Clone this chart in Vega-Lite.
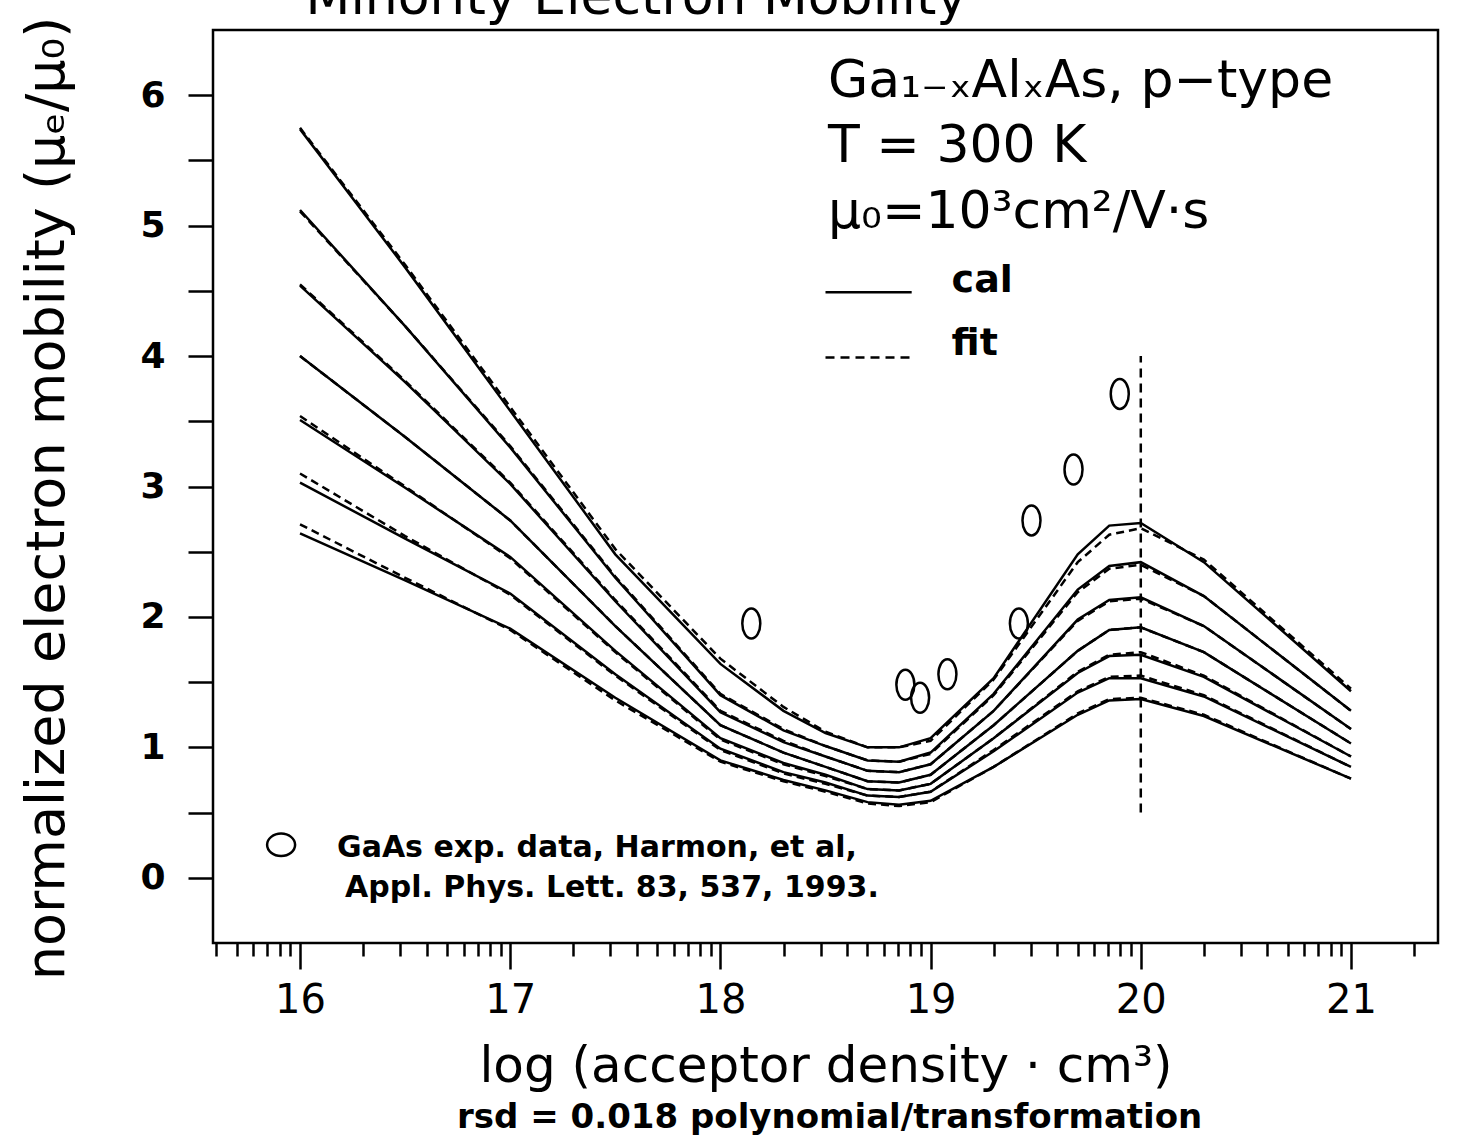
{
  "$schema": "https://vega.github.io/schema/vega-lite/v6.json",
  "autosize": "none",
  "width": 1225,
  "height": 913,
  "padding": {"left": 213, "top": 30, "right": 24, "bottom": 196},
  "background": "white",
  "config": {
    "view": {"stroke": "black", "strokeWidth": 2.5},
    "font": "DejaVu Sans",
    "axis": {"grid": false, "domain": false, "tickColor": "black", "tickWidth": 2.5, "labelColor": "black", "titleColor": "black", "labelFont": "DejaVu Sans", "titleFont": "DejaVu Sans", "titleFontWeight": "normal"},
    "text": {"color": "black", "font": "DejaVu Sans"}
  },
  "datasets": {
    "cal": [
      {"c":1,"x":16,"y":5.74},{"c":1,"x":16.5,"y":4.68},{"c":1,"x":17,"y":3.58},{"c":1,"x":17.5,"y":2.48},{"c":1,"x":18,"y":1.64},{"c":1,"x":18.3,"y":1.28},{"c":1,"x":18.5,"y":1.11},{"c":1,"x":18.7,"y":1.00},{"c":1,"x":18.85,"y":1.00},{"c":1,"x":19,"y":1.07},{"c":1,"x":19.3,"y":1.53},{"c":1,"x":19.7,"y":2.48},{"c":1,"x":19.85,"y":2.70},{"c":1,"x":20,"y":2.72},{"c":1,"x":20.3,"y":2.42},{"c":1,"x":21,"y":1.43},
      {"c":2,"x":16,"y":5.12},{"c":2,"x":16.5,"y":4.23},{"c":2,"x":17,"y":3.30},{"c":2,"x":17.5,"y":2.30},{"c":2,"x":18,"y":1.40},{"c":2,"x":18.3,"y":1.13},{"c":2,"x":18.5,"y":1.01},{"c":2,"x":18.7,"y":0.90},{"c":2,"x":18.85,"y":0.89},{"c":2,"x":19,"y":0.96},{"c":2,"x":19.3,"y":1.41},{"c":2,"x":19.7,"y":2.21},{"c":2,"x":19.85,"y":2.39},{"c":2,"x":20,"y":2.42},{"c":2,"x":20.3,"y":2.16},{"c":2,"x":21,"y":1.28},
      {"c":3,"x":16,"y":4.54},{"c":3,"x":16.5,"y":3.80},{"c":3,"x":17,"y":3.02},{"c":3,"x":17.5,"y":2.12},{"c":3,"x":18,"y":1.27},{"c":3,"x":18.3,"y":1.04},{"c":3,"x":18.5,"y":0.93},{"c":3,"x":18.7,"y":0.82},{"c":3,"x":18.85,"y":0.81},{"c":3,"x":19,"y":0.87},{"c":3,"x":19.3,"y":1.28},{"c":3,"x":19.7,"y":1.98},{"c":3,"x":19.85,"y":2.13},{"c":3,"x":20,"y":2.15},{"c":3,"x":20.3,"y":1.93},{"c":3,"x":21,"y":1.14},
      {"c":4,"x":16,"y":4.00},{"c":4,"x":16.5,"y":3.38},{"c":4,"x":17,"y":2.74},{"c":4,"x":17.5,"y":1.93},{"c":4,"x":18,"y":1.17},{"c":4,"x":18.3,"y":0.96},{"c":4,"x":18.5,"y":0.85},{"c":4,"x":18.7,"y":0.74},{"c":4,"x":18.85,"y":0.73},{"c":4,"x":19,"y":0.79},{"c":4,"x":19.3,"y":1.17},{"c":4,"x":19.7,"y":1.74},{"c":4,"x":19.85,"y":1.90},{"c":4,"x":20,"y":1.92},{"c":4,"x":20.3,"y":1.73},{"c":4,"x":21,"y":1.03},
      {"c":5,"x":16,"y":3.51},{"c":5,"x":16.5,"y":2.99},{"c":5,"x":17,"y":2.46},{"c":5,"x":17.5,"y":1.74},{"c":5,"x":18,"y":1.07},{"c":5,"x":18.3,"y":0.88},{"c":5,"x":18.5,"y":0.79},{"c":5,"x":18.7,"y":0.68},{"c":5,"x":18.85,"y":0.67},{"c":5,"x":19,"y":0.72},{"c":5,"x":19.3,"y":1.07},{"c":5,"x":19.7,"y":1.57},{"c":5,"x":19.85,"y":1.70},{"c":5,"x":20,"y":1.71},{"c":5,"x":20.3,"y":1.54},{"c":5,"x":21,"y":0.93},
      {"c":6,"x":16,"y":3.03},{"c":6,"x":16.5,"y":2.60},{"c":6,"x":17,"y":2.18},{"c":6,"x":17.5,"y":1.56},{"c":6,"x":18,"y":0.99},{"c":6,"x":18.3,"y":0.81},{"c":6,"x":18.5,"y":0.73},{"c":6,"x":18.7,"y":0.63},{"c":6,"x":18.85,"y":0.62},{"c":6,"x":19,"y":0.66},{"c":6,"x":19.3,"y":0.97},{"c":6,"x":19.7,"y":1.42},{"c":6,"x":19.85,"y":1.53},{"c":6,"x":20,"y":1.53},{"c":6,"x":20.3,"y":1.39},{"c":6,"x":21,"y":0.85},
      {"c":7,"x":16,"y":2.64},{"c":7,"x":16.5,"y":2.28},{"c":7,"x":17,"y":1.91},{"c":7,"x":17.5,"y":1.38},{"c":7,"x":18,"y":0.90},{"c":7,"x":18.3,"y":0.75},{"c":7,"x":18.5,"y":0.67},{"c":7,"x":18.7,"y":0.58},{"c":7,"x":18.85,"y":0.56},{"c":7,"x":19,"y":0.59},{"c":7,"x":19.3,"y":0.85},{"c":7,"x":19.7,"y":1.25},{"c":7,"x":19.85,"y":1.36},{"c":7,"x":20,"y":1.37},{"c":7,"x":20.3,"y":1.24},{"c":7,"x":21,"y":0.76}
    ],
    "fit": [
      {"c":1,"x":16,"y":5.75},{"c":1,"x":16.5,"y":4.70},{"c":1,"x":17,"y":3.61},{"c":1,"x":17.5,"y":2.52},{"c":1,"x":18,"y":1.68},{"c":1,"x":18.3,"y":1.31},{"c":1,"x":18.5,"y":1.12},{"c":1,"x":18.7,"y":1.00},{"c":1,"x":18.85,"y":1.00},{"c":1,"x":19,"y":1.05},{"c":1,"x":19.3,"y":1.52},{"c":1,"x":19.7,"y":2.42},{"c":1,"x":19.85,"y":2.63},{"c":1,"x":20,"y":2.68},{"c":1,"x":20.3,"y":2.44},{"c":1,"x":21,"y":1.45},
      {"c":2,"x":16,"y":5.11},{"c":2,"x":16.5,"y":4.23},{"c":2,"x":17,"y":3.31},{"c":2,"x":17.5,"y":2.31},{"c":2,"x":18,"y":1.41},{"c":2,"x":18.3,"y":1.14},{"c":2,"x":18.5,"y":1.01},{"c":2,"x":18.7,"y":0.90},{"c":2,"x":18.85,"y":0.89},{"c":2,"x":19,"y":0.95},{"c":2,"x":19.3,"y":1.40},{"c":2,"x":19.7,"y":2.19},{"c":2,"x":19.85,"y":2.37},{"c":2,"x":20,"y":2.40},{"c":2,"x":20.3,"y":2.16},{"c":2,"x":21,"y":1.28},
      {"c":3,"x":16,"y":4.55},{"c":3,"x":16.5,"y":3.81},{"c":3,"x":17,"y":3.03},{"c":3,"x":17.5,"y":2.13},{"c":3,"x":18,"y":1.28},{"c":3,"x":18.3,"y":1.05},{"c":3,"x":18.5,"y":0.93},{"c":3,"x":18.7,"y":0.82},{"c":3,"x":18.85,"y":0.81},{"c":3,"x":19,"y":0.87},{"c":3,"x":19.3,"y":1.28},{"c":3,"x":19.7,"y":1.97},{"c":3,"x":19.85,"y":2.12},{"c":3,"x":20,"y":2.14},{"c":3,"x":20.3,"y":1.93},{"c":3,"x":21,"y":1.14},
      {"c":4,"x":16,"y":4.00},{"c":4,"x":16.5,"y":3.38},{"c":4,"x":17,"y":2.74},{"c":4,"x":17.5,"y":1.93},{"c":4,"x":18,"y":1.17},{"c":4,"x":18.3,"y":0.96},{"c":4,"x":18.5,"y":0.85},{"c":4,"x":18.7,"y":0.74},{"c":4,"x":18.85,"y":0.73},{"c":4,"x":19,"y":0.79},{"c":4,"x":19.3,"y":1.17},{"c":4,"x":19.7,"y":1.74},{"c":4,"x":19.85,"y":1.90},{"c":4,"x":20,"y":1.92},{"c":4,"x":20.3,"y":1.73},{"c":4,"x":21,"y":1.03},
      {"c":5,"x":16,"y":3.54},{"c":5,"x":16.5,"y":3.00},{"c":5,"x":17,"y":2.45},{"c":5,"x":17.5,"y":1.73},{"c":5,"x":18,"y":1.06},{"c":5,"x":18.3,"y":0.87},{"c":5,"x":18.5,"y":0.78},{"c":5,"x":18.7,"y":0.68},{"c":5,"x":18.85,"y":0.67},{"c":5,"x":19,"y":0.72},{"c":5,"x":19.3,"y":1.07},{"c":5,"x":19.7,"y":1.58},{"c":5,"x":19.85,"y":1.71},{"c":5,"x":20,"y":1.73},{"c":5,"x":20.3,"y":1.55},{"c":5,"x":21,"y":0.93},
      {"c":6,"x":16,"y":3.10},{"c":6,"x":16.5,"y":2.62},{"c":6,"x":17,"y":2.17},{"c":6,"x":17.5,"y":1.55},{"c":6,"x":18,"y":0.98},{"c":6,"x":18.3,"y":0.80},{"c":6,"x":18.5,"y":0.72},{"c":6,"x":18.7,"y":0.63},{"c":6,"x":18.85,"y":0.62},{"c":6,"x":19,"y":0.66},{"c":6,"x":19.3,"y":0.98},{"c":6,"x":19.7,"y":1.43},{"c":6,"x":19.85,"y":1.54},{"c":6,"x":20,"y":1.55},{"c":6,"x":20.3,"y":1.40},{"c":6,"x":21,"y":0.85},
      {"c":7,"x":16,"y":2.71},{"c":7,"x":16.5,"y":2.30},{"c":7,"x":17,"y":1.90},{"c":7,"x":17.5,"y":1.36},{"c":7,"x":18,"y":0.89},{"c":7,"x":18.3,"y":0.74},{"c":7,"x":18.5,"y":0.66},{"c":7,"x":18.7,"y":0.57},{"c":7,"x":18.85,"y":0.55},{"c":7,"x":19,"y":0.58},{"c":7,"x":19.3,"y":0.85},{"c":7,"x":19.7,"y":1.26},{"c":7,"x":19.85,"y":1.37},{"c":7,"x":20,"y":1.38},{"c":7,"x":20.3,"y":1.25},{"c":7,"x":21,"y":0.76}
    ],
    "exp": [
      {"x":18.147,"y":1.95},{"x":18.88,"y":1.48},{"x":18.95,"y":1.38},{"x":19.08,"y":1.56},
      {"x":19.42,"y":1.95},{"x":19.48,"y":2.74},{"x":19.68,"y":3.13},{"x":19.90,"y":3.71}
    ],
    "vline": [{"x":20,"y":0.5,"y2":4.0}],
    "legSolid": [{"x":18.5,"x2":18.91,"y":4.49}],
    "legDash": [{"x":18.5,"x2":18.91,"y":3.99}],
    "legSym": [{"x":15.91,"y":0.253}],
    "annot": [
      {"x":18.512,"y":5.988,"t":"Ga₁₋ₓAlₓAs, p−type"},
      {"x":18.512,"y":5.49,"t":"T = 300 K"},
      {"x":18.512,"y":4.98,"t":"μ₀=10³cm²/V·s"}
    ],
    "legText": [
      {"x":19.10,"y":4.49,"t":"cal"},
      {"x":19.10,"y":4.01,"t":"fit"}
    ],
    "refText": [
      {"x":16.176,"y":0.161,"t":"GaAs exp. data, Harmon, et al,"},
      {"x":16.214,"y":-0.146,"t":"Appl. Phys. Lett. 83, 537, 1993."}
    ],
    "rsdText": [{"x":18.52,"y":-1.917,"t":"rsd = 0.018 polynomial/transformation"}],
    "titleText": [{"x":17.6,"y":6.624,"t":"Minority Electron Mobility"}]
  },
  "layer": [
    {
      "data": {"name": "cal"},
      "mark": {"type": "line", "color": "black", "strokeWidth": 2.5},
      "encoding": {
        "x": {"field": "x", "type": "quantitative",
          "scale": {"domain": [15.586, 21.414], "nice": false, "zero": false},
          "axis": {"orient": "bottom", "tickCount": 200,
            "values": [15.602,15.699,15.778,15.845,15.903,15.954,16,16.301,16.477,16.602,16.699,16.778,16.845,16.903,16.954,17,17.301,17.477,17.602,17.699,17.778,17.845,17.903,17.954,18,18.301,18.477,18.602,18.699,18.778,18.845,18.903,18.954,19,19.301,19.477,19.602,19.699,19.778,19.845,19.903,19.954,20,20.301,20.477,20.602,20.699,20.778,20.845,20.903,20.954,21,21.301],
            "labelExpr": "datum.value % 1 === 0 ? format(datum.value, 'd') : ''",
            "tickSize": {"condition": {"test": "datum.value % 1 === 0", "value": 26}, "value": 13},
            "labelPadding": 11, "labelFontSize": 40, "labelFlush": false, "labelOverlap": false,
            "title": "log (acceptor density · cm³)", "titleFontSize": 50, "titleY": 138, "titleBaseline": "alphabetic"}},
        "y": {"field": "y", "type": "quantitative",
          "scale": {"domain": [-0.5, 6.5], "nice": false, "zero": false},
          "axis": {"values": [0,0.5,1,1.5,2,2.5,3,3.5,4,4.5,5,5.5,6], "tickCount": 100, "labelExpr": "datum.value % 1 === 0 ? format(datum.value, 'd') : ''", "tickSize": 25, "labelPadding": 23, "labelFontSize": 36, "labelFontWeight": "bold", "labelOverlap": false,
            "title": "normalized electron mobility (μₑ/μ₀)", "titleFontSize": 54, "titleX": -150, "titleY": 468, "titleAngle": -90, "titleBaseline": "alphabetic", "titleAlign": "center"}},
        "detail": {"field": "c"}
      }
    },
    {
      "data": {"name": "fit"},
      "mark": {"type": "line", "color": "black", "strokeWidth": 2.5, "strokeDash": [8, 5]},
      "encoding": {
        "x": {"field": "x", "type": "quantitative", "scale": {"domain": [15.586, 21.414], "nice": false, "zero": false}},
        "y": {"field": "y", "type": "quantitative", "scale": {"domain": [-0.5, 6.5], "nice": false, "zero": false}},
        "detail": {"field": "c"}
      }
    },
    {
      "data": {"name": "vline"},
      "mark": {"type": "rule", "color": "black", "strokeWidth": 2.5, "strokeDash": [9, 6]},
      "encoding": {
        "x": {"field": "x", "type": "quantitative", "scale": {"domain": [15.586, 21.414], "nice": false, "zero": false}},
        "y": {"field": "y", "type": "quantitative", "scale": {"domain": [-0.5, 6.5], "nice": false, "zero": false}},
        "y2": {"field": "y2"}
      }
    },
    {
      "data": {"name": "exp"},
      "mark": {"type": "point", "shape": "M0,-1A0.6,1,0,1,1,0,1A0.6,1,0,1,1,0,-1Z", "filled": false, "stroke": "black", "strokeWidth": 2.5, "size": 900, "opacity": 1},
      "encoding": {
        "x": {"field": "x", "type": "quantitative", "scale": {"domain": [15.586, 21.414], "nice": false, "zero": false}},
        "y": {"field": "y", "type": "quantitative", "scale": {"domain": [-0.5, 6.5], "nice": false, "zero": false}}
      }
    },
    {
      "data": {"name": "legSym"},
      "mark": {"type": "point", "shape": "M-1,0A1,0.8,0,1,1,1,0A1,0.8,0,1,1,-1,0Z", "filled": false, "stroke": "black", "strokeWidth": 2.5, "size": 784, "opacity": 1},
      "encoding": {
        "x": {"field": "x", "type": "quantitative", "scale": {"domain": [15.586, 21.414], "nice": false, "zero": false}},
        "y": {"field": "y", "type": "quantitative", "scale": {"domain": [-0.5, 6.5], "nice": false, "zero": false}}
      }
    },
    {
      "data": {"name": "legSolid"},
      "mark": {"type": "rule", "color": "black", "strokeWidth": 2.5},
      "encoding": {
        "x": {"field": "x", "type": "quantitative", "scale": {"domain": [15.586, 21.414], "nice": false, "zero": false}},
        "x2": {"field": "x2"},
        "y": {"field": "y", "type": "quantitative", "scale": {"domain": [-0.5, 6.5], "nice": false, "zero": false}}
      }
    },
    {
      "data": {"name": "legDash"},
      "mark": {"type": "rule", "color": "black", "strokeWidth": 2.5, "strokeDash": [9, 6]},
      "encoding": {
        "x": {"field": "x", "type": "quantitative", "scale": {"domain": [15.586, 21.414], "nice": false, "zero": false}},
        "x2": {"field": "x2"},
        "y": {"field": "y", "type": "quantitative", "scale": {"domain": [-0.5, 6.5], "nice": false, "zero": false}}
      }
    },
    {
      "data": {"name": "annot"},
      "mark": {"type": "text", "align": "left", "baseline": "alphabetic", "fontSize": 52, "font": "DejaVu Sans", "color": "black"},
      "encoding": {
        "x": {"field": "x", "type": "quantitative", "scale": {"domain": [15.586, 21.414], "nice": false, "zero": false}},
        "y": {"field": "y", "type": "quantitative", "scale": {"domain": [-0.5, 6.5], "nice": false, "zero": false}},
        "text": {"field": "t"}
      }
    },
    {
      "data": {"name": "legText"},
      "mark": {"type": "text", "align": "left", "baseline": "alphabetic", "fontSize": 38, "fontWeight": "bold", "font": "DejaVu Sans", "color": "black"},
      "encoding": {
        "x": {"field": "x", "type": "quantitative", "scale": {"domain": [15.586, 21.414], "nice": false, "zero": false}},
        "y": {"field": "y", "type": "quantitative", "scale": {"domain": [-0.5, 6.5], "nice": false, "zero": false}},
        "text": {"field": "t"}
      }
    },
    {
      "data": {"name": "refText"},
      "mark": {"type": "text", "align": "left", "baseline": "alphabetic", "fontSize": 30, "fontWeight": "bold", "font": "DejaVu Sans", "color": "black"},
      "encoding": {
        "x": {"field": "x", "type": "quantitative", "scale": {"domain": [15.586, 21.414], "nice": false, "zero": false}},
        "y": {"field": "y", "type": "quantitative", "scale": {"domain": [-0.5, 6.5], "nice": false, "zero": false}},
        "text": {"field": "t"}
      }
    },
    {
      "data": {"name": "rsdText"},
      "mark": {"type": "text", "align": "center", "baseline": "alphabetic", "fontSize": 34, "fontWeight": "bold", "font": "DejaVu Sans", "color": "black"},
      "encoding": {
        "x": {"field": "x", "type": "quantitative", "scale": {"domain": [15.586, 21.414], "nice": false, "zero": false}},
        "y": {"field": "y", "type": "quantitative", "scale": {"domain": [-0.5, 6.5], "nice": false, "zero": false}},
        "text": {"field": "t"}
      }
    },
    {
      "data": {"name": "titleText"},
      "mark": {"type": "text", "align": "center", "baseline": "alphabetic", "fontSize": 52, "font": "DejaVu Sans", "color": "black"},
      "encoding": {
        "x": {"field": "x", "type": "quantitative", "scale": {"domain": [15.586, 21.414], "nice": false, "zero": false}},
        "y": {"field": "y", "type": "quantitative", "scale": {"domain": [-0.5, 6.5], "nice": false, "zero": false}},
        "text": {"field": "t"}
      }
    }
  ]
}
